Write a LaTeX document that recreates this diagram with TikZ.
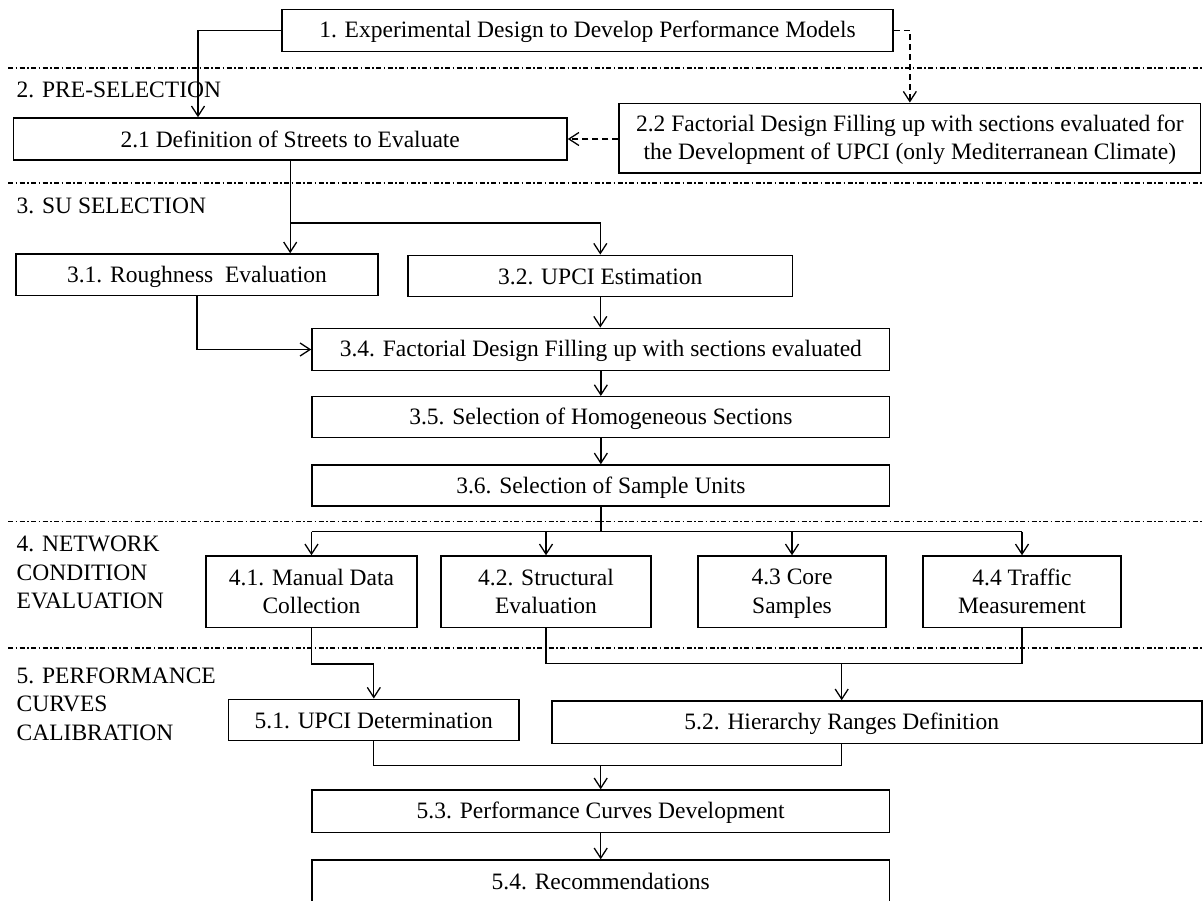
\documentclass[tikz,border=0pt]{standalone}
\usepackage{fontspec}
\setmainfont{Liberation Serif}
\usetikzlibrary{arrows.meta}
% line strut that keeps the capitals optically centred in a box
\newcommand\lstrut{\rule[-4pt]{0pt}{24pt}}
\begin{document}
\begin{tikzpicture}[x=1pt,y=-1pt,
  every node/.style={font=\fontsize{23.5}{28.4}\selectfont, inner sep=0pt, text=black},
  box/.style={draw, line width=1.5pt, align=center},
  lab/.style={anchor=base west},
  flow/.style={line width=1.3pt},
  arr/.style={flow, -{Straight Barb[length=10pt,width=13pt,line width=1.3pt]}},
  darr/.style={arr, dash pattern=on 6pt off 4pt},
  sep/.style={line width=1.1pt, black, dash pattern=on 5pt off 2.5pt on 1.5pt off 2.5pt}]
\useasboundingbox (0,0) rectangle (1204,900);
\clip (0,0) rectangle (1204,900);

% phase separators
\draw[sep] (8,68) -- (1204,68);
\draw[sep] (8,183) -- (1204,183);
\draw[sep] (8,521.7) -- (1204,521.7);
\draw[sep] (8,648) -- (1204,648);

% phase titles
\node[lab] (l2) at (16.5,97) {2. PRE-SELECTION};
\node[lab] (l3) at (16.5,213) {3. SU SELECTION};
\node[lab] (l4a) at (16.5,551.7) {4. NETWORK};
\node[lab] (l4b) at (16.5,580) {CONDITION};
\node[lab] (l4c) at (16.5,608.3) {EVALUATION};
\node[lab] (l5a) at (16.5,683) {5. PERFORMANCE};
\node[lab] (l5b) at (16.5,711.5) {CURVES};
\node[lab] (l5c) at (16.5,740) {CALIBRATION};

% process boxes
\node[box, minimum width=611, minimum height=42.4] (b1) at (587.5,30.5) {\lstrut 1. Experimental Design to Develop Performance Models};
\node[box, minimum width=553.6, minimum height=42] (b21) at (290.2,139) {\lstrut 2.1 Definition of Streets to Evaluate};
\node[box, minimum width=581.7, minimum height=69.7] (b22) at (909.85,138.15) {\lstrut 2.2 Factorial Design Filling up with sections evaluated for\\\lstrut the Development of UPCI (only Mediterranean Climate)};
\node[box, minimum width=362, minimum height=41.7] (b31) at (197,274.85) {\lstrut 3.1. Roughness\ \ Evaluation};
\node[box, minimum width=384.6, minimum height=41.4] (b32) at (600.3,276) {\lstrut 3.2. UPCI Estimation};
\node[box, minimum width=577.7, minimum height=42.4] (b34) at (600.85,349.5) {\lstrut 3.4. Factorial Design Filling up with sections evaluated};
\node[box, minimum width=577.7, minimum height=40.6] (b35) at (600.85,417) {\lstrut 3.5. Selection of Homogeneous Sections};
\node[box, minimum width=577.7, minimum height=41] (b36) at (600.85,485.5) {\lstrut 3.6. Selection of Sample Units};
\node[box, minimum width=211, minimum height=71.3] (b41) at (311.5,591.65) {\lstrut 4.1. Manual Data\\\lstrut Collection};
\node[box, minimum width=210, minimum height=71.3] (b42) at (546,591.65) {\lstrut 4.2. Structural\\\lstrut Evaluation};
\node[box, minimum width=188, minimum height=71.3] (b43) at (792,591.65) {\lstrut 4.3 Core\\\lstrut Samples};
\node[box, minimum width=198, minimum height=71.3] (b44) at (1022,591.65) {\lstrut 4.4 Traffic\\\lstrut Measurement};
\node[box, minimum width=290.4, minimum height=41.4] (b51) at (373.8,720) {\lstrut 5.1. UPCI Determination};
\node[box, minimum width=650.2, minimum height=42.3] (b52) at (876.9,722.15) {};
\node (t52) at (841.7,722.15) {\lstrut 5.2. Hierarchy Ranges Definition};
\node[box, minimum width=577.4, minimum height=42.7] (b53) at (600.7,811.35) {\lstrut 5.3. Performance Curves Development};
\node[box, minimum width=577.4, minimum height=42.7] (b54) at (600.7,881.35) {\lstrut 5.4. Recommendations};

% junction points
\coordinate (j1) at (198,30.5);
\coordinate (j3) at (290.2,223);
\coordinate (j4) at (600.85,531.7);
\coordinate (j5) at (546,663.3);
\coordinate (j6) at (600.7,765.7);

% stage 1 -> 2
\draw[arr] (b1.west) -| (b21.north -| j1);
\draw[darr] (b1.east) -| (b22.north);
\draw[darr] (b21.east -| b22.west) -- (b21.east);

% stage 2 -> 3
\draw[arr] (b21.south) -- (b21.south |- b31.north);
\draw[arr] (j3) -| (b32.north);
\draw[arr] (b31.south) |- (b34.west);
\draw[arr] (b32.south) -- (b32.south |- b34.north);
\draw[arr] (b34.south) -- (b35.north);
\draw[arr] (b35.south) -- (b36.north);

% stage 3 -> 4
\draw[flow] (b36.south) -- (j4);
\draw[flow] (b41.north |- j4) -- (b44.north |- j4);
\draw[arr] (b41.north |- j4) -- (b41.north);
\draw[arr] (b42.north |- j4) -- (b42.north);
\draw[arr] (b43.north |- j4) -- (b43.north);
\draw[arr] (b44.north |- j4) -- (b44.north);

% stage 4 -> 5
\draw[arr] (b41.south) -- ++(0,36) -| (b51.north);
\draw[flow] (b42.south) -- (j5) -| (b44.south);
\draw[arr] (t52 |- j5) -- (t52 |- b52.north);
\draw[flow] (b51.south) |- (t52 |- j6) -- (t52 |- b52.south);
\draw[arr] (j6) -- (b53.north);
\draw[arr] (b53.south) -- (b54.north);
\end{tikzpicture}
\end{document}
